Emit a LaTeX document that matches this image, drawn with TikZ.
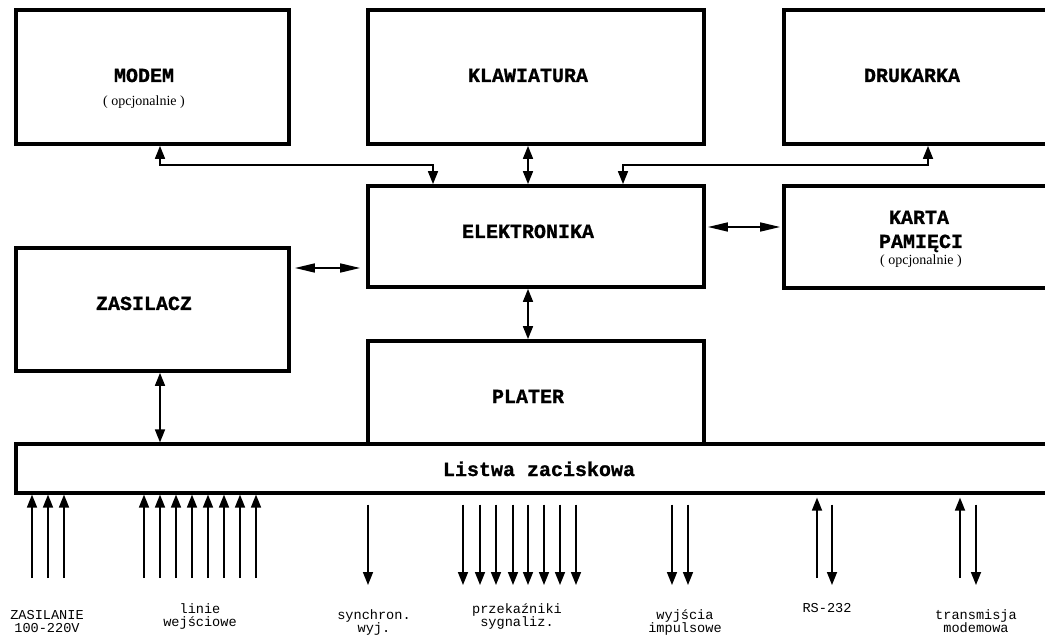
\documentclass[tikz,border=0pt]{standalone}
\usepackage{fontspec}
\setmainfont{Liberation Serif}
\newfontfamily\monofont{Liberation Mono}[BoldFeatures={FakeBold=1}]
\usetikzlibrary{arrows.meta}
\begin{document}
\begin{tikzpicture}[x=1pt,y=-1pt,
  box/.style={draw, line width=3.8pt, rectangle, inner sep=0pt},
  blabel/.style={font=\monofont\bfseries\fontsize{20}{22}\selectfont, anchor=base, inner sep=0pt},
  olabel/.style={font=\fontsize{14}{16}\selectfont, anchor=base, inner sep=0pt},
  slabel/.style={font=\monofont\fontsize{13.6}{13}\selectfont, align=center, anchor=base, inner sep=0pt},
  conn/.style={line width=1.7pt},
  vtip/.style={-{Triangle[length=13pt,width=10pt]}},
  dtip/.style={{Triangle[length=13pt,width=10pt]}-{Triangle[length=13pt,width=10pt]}},
  htip/.style={{Triangle[length=20pt,width=9pt]}-{Triangle[length=20pt,width=9pt]}}
]
\useasboundingbox (0,0) rectangle (1045,639);
\clip (0,0) rectangle (1045,639);
\fill[white] (0,0) rectangle (1045,639);

% boxes
\node[box, line width=3.2pt, minimum width=1054pt, minimum height=49pt] (list) at (543,468.5) {};
\node[box, minimum width=273pt, minimum height=134pt] (modem) at (152.5,77) {};
\node[box, minimum width=336pt, minimum height=134pt] (klaw) at (536,77) {};
\node[box, minimum width=286pt, minimum height=134pt] (druk) at (927,77) {};
\node[box, minimum width=336pt, minimum height=101pt] (elek) at (536,236.5) {};
\node[box, minimum width=286pt, minimum height=102pt] (karta) at (927,237) {};
\node[box, minimum width=273pt, minimum height=123pt] (zas) at (152.5,309.5) {};
\node[box, minimum width=336pt, minimum height=103pt] (plater) at (536,392.5) {};

% box labels
\node[blabel] (tmodem) at (144,82) {MODEM};
\node[olabel] (omodem) at (144,106) {( opcjonalnie )};
\node[blabel] (tklaw) at (528,82) {KLAWIATURA};
\node[blabel] (tdruk) at (912,82) {DRUKARKA};
\node[blabel] (telek) at (528,238) {ELEKTRONIKA};
\node[blabel] (tkarta) at (919,224) {KARTA};
\node[blabel] (tpam) at (921,248) {PAMIĘCI};
\node[olabel] (okarta) at (921,265) {( opcjonalnie )};
\node[blabel] (tzas) at (144,310) {ZASILACZ};
\node[blabel] (tplat) at (528,403) {PLATER};
\node[blabel] (tlist) at (539,476) {Listwa zaciskowa};

% connectors
\coordinate (mA) at (160,165);
\coordinate (mB) at (433,165);
\coordinate (dA) at (623,165);
\coordinate (dB) at (928,165);
\coordinate (kx) at (528,0);
\coordinate (zx) at (160,0);
\coordinate (hk) at (0,227);
\coordinate (hz) at (0,268);
\draw[conn, dtip] (modem.south -| mA) -- (mA) -- (mB) -- (elek.north -| mB);
\draw[conn, dtip] (klaw.south -| kx) -- (elek.north -| kx);
\draw[conn, dtip] (elek.north -| dA) -- (dA) -- (dB) -- (druk.south -| dB);
\draw[conn, htip, shorten <=2pt, shorten >=2pt] (elek.east |- hk) -- (karta.west |- hk);
\draw[conn, htip, shorten <=4pt, shorten >=6pt] (zas.east |- hz) -- (elek.west |- hz);
\draw[conn, dtip] (zas.south -| zx) -- (list.north -| zx);
\draw[conn, dtip] (elek.south -| kx) -- (plater.north -| kx);

% bottom inputs
\foreach \x [count=\i] in {32,48,64,144,160,176,192,208,224,240,256} {
  \coordinate (in\i) at (\x,578);
  \draw[conn, vtip] (in\i) -- (list.south -| in\i);
}
\foreach \x [count=\i] in {817,960} {
  \coordinate (rin\i) at (\x,578);
  \draw[conn, vtip, shorten >=3pt] (rin\i) -- (list.south -| rin\i);
}
% bottom outputs
\foreach \x [count=\i] in {368,463,480,496,513,528,544,560,576,672,688,832,976} {
  \coordinate (out\i) at (\x,585);
  \draw[conn, vtip, shorten <=10pt] (list.south -| out\i) -- (out\i);
}

% bottom labels (anchor base = baseline of last line)
\node[slabel] (lzas) at (47,632) {ZASILANIE\\100-220V};
\node[slabel] (llin) at (200,626) {linie\\wejściowe};
\node[slabel] (lsyn) at (374,632) {synchron.\\wyj.};
\node[slabel] (lprz) at (517,626) {przekaźniki\\sygnaliz.};
\node[slabel] (lwyj) at (685,632) {wyjścia\\impulsowe};
\node[slabel] (lrs) at (827,612) {RS-232};
\node[slabel] (ltr) at (976,632) {transmisja\\modemowa};
\end{tikzpicture}
\end{document}
